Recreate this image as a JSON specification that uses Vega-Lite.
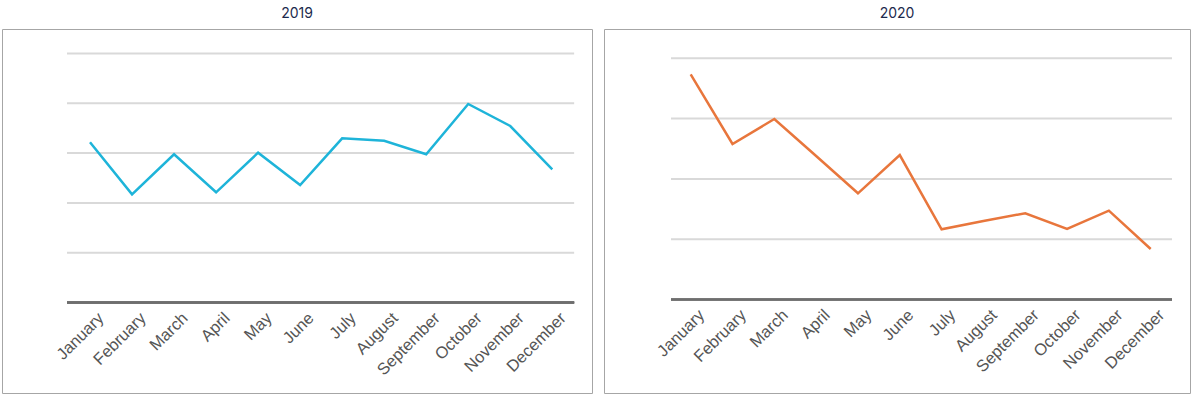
{
  "$schema": "https://vega.github.io/schema/vega-lite/v6.json",
  "background": "white",
  "padding": {"left": 1, "top": 6, "right": 0, "bottom": 0},
  "spacing": 10,
  "datasets": {
    "sales": [
      {"year": 2019, "month": 1, "name": "January", "value": 3.217},
      {"year": 2019, "month": 2, "name": "February", "value": 2.173},
      {"year": 2019, "month": 3, "name": "March", "value": 2.976},
      {"year": 2019, "month": 4, "name": "April", "value": 2.213},
      {"year": 2019, "month": 5, "name": "May", "value": 3.008},
      {"year": 2019, "month": 6, "name": "June", "value": 2.359},
      {"year": 2019, "month": 7, "name": "July", "value": 3.297},
      {"year": 2019, "month": 8, "name": "August", "value": 3.249},
      {"year": 2019, "month": 9, "name": "September", "value": 2.976},
      {"year": 2019, "month": 10, "name": "October", "value": 3.986},
      {"year": 2019, "month": 11, "name": "November", "value": 3.544},
      {"year": 2019, "month": 12, "name": "December", "value": 2.675},
      {"year": 2020, "month": 1, "name": "January", "value": 3.735},
      {"year": 2020, "month": 2, "name": "February", "value": 2.579},
      {"year": 2020, "month": 3, "name": "March", "value": 2.993},
      {"year": 2020, "month": 4, "name": "April", "value": 2.38},
      {"year": 2020, "month": 5, "name": "May", "value": 1.761},
      {"year": 2020, "month": 6, "name": "June", "value": 2.396},
      {"year": 2020, "month": 7, "name": "July", "value": 1.164},
      {"year": 2020, "month": 8, "name": "August", "value": 1.302},
      {"year": 2020, "month": 9, "name": "September", "value": 1.43},
      {"year": 2020, "month": 10, "name": "October", "value": 1.169},
      {"year": 2020, "month": 11, "name": "November", "value": 1.473},
      {"year": 2020, "month": 12, "name": "December", "value": 0.837}
    ],
    "grid2019": [{"level": 1}, {"level": 2}, {"level": 3}, {"level": 4}, {"level": 5}],
    "grid2020": [{"level": 1}, {"level": 2}, {"level": 3}, {"level": 4}]
  },
  "hconcat": [
    {
      "title": {"text": "2019", "offset": 8},
      "width": 590,
      "height": 364,
      "layer": [
        {
          "data": {"name": "grid2019"},
          "mark": {"type": "rule", "color": "#d9d9d9", "strokeWidth": 2},
          "encoding": {
            "x": {"datum": 0.453, "type": "quantitative", "scale": {"domain": [-1.094, 12.945], "nice": false, "zero": false},
              "axis": {
                "title": null, "values": [1,2,3,4,5,6,7,8,9,10,11,12],
                "labelExpr": "['January','February','March','April','May','June','July','August','September','October','November','December'][datum.value-1]",
                "labelAngle": -45, "ticks": false, "domain": false, "grid": false,
                "offset": -90.5, "labelPadding": 7, "labelOffset": 5, "labelFlush": false, "labelOverlap": false, "labelBound": false
              }},
            "x2": {"datum": 12.52},
            "y": {"field": "level", "type": "quantitative", "scale": {"domain": [-1.817, 5.492], "nice": false, "zero": false}, "axis": null}
          }
        },
        {
          "data": {"name": "grid2019"},
          "mark": {"type": "rule", "color": "#6e6e6e", "strokeWidth": 2},
          "encoding": {
            "x": {"datum": 0.453, "type": "quantitative"},
            "x2": {"datum": 12.52},
            "y": {"datum": 0, "type": "quantitative"}
          }
        },
        {
          "data": {"name": "sales"},
          "transform": [{"filter": "datum.year == 2019"}],
          "mark": {"type": "line", "color": "#1eb4d9", "strokeWidth": 2.5},
          "encoding": {
            "x": {"field": "month", "type": "quantitative"},
            "y": {"field": "value", "type": "quantitative"}
          }
        }
      ]
    },
    {
      "title": {"text": "2020", "offset": 8},
      "width": 586,
      "height": 364,
      "layer": [
        {
          "data": {"name": "grid2020"},
          "mark": {"type": "rule", "color": "#d9d9d9", "strokeWidth": 2},
          "encoding": {
            "x": {"datum": 0.529, "type": "quantitative", "scale": {"domain": [-1.073, 12.94], "nice": false, "zero": false},
              "axis": {
                "title": null, "values": [1,2,3,4,5,6,7,8,9,10,11,12],
                "labelExpr": "['January','February','March','April','May','June','July','August','September','October','November','December'][datum.value-1]",
                "labelAngle": -45, "ticks": false, "domain": false, "grid": false,
                "offset": -93.5, "labelPadding": 7, "labelOffset": 5, "labelFlush": false, "labelOverlap": false, "labelBound": false
              }},
            "x2": {"datum": 12.509},
            "y": {"field": "level", "type": "quantitative", "scale": {"domain": [-1.551, 4.486], "nice": false, "zero": false}, "axis": null}
          }
        },
        {
          "data": {"name": "grid2020"},
          "mark": {"type": "rule", "color": "#6e6e6e", "strokeWidth": 2},
          "encoding": {
            "x": {"datum": 0.529, "type": "quantitative"},
            "x2": {"datum": 12.509},
            "y": {"datum": 0, "type": "quantitative"}
          }
        },
        {
          "data": {"name": "sales"},
          "transform": [{"filter": "datum.year == 2020"}],
          "mark": {"type": "line", "color": "#e8763c", "strokeWidth": 2.5},
          "encoding": {
            "x": {"field": "month", "type": "quantitative"},
            "y": {"field": "value", "type": "quantitative"}
          }
        }
      ]
    }
  ],
  "config": {
    "view": {"stroke": "#a6a6a6", "strokeWidth": 1},
    "title": {"font": "Inter", "fontSize": 14, "fontWeight": "normal", "color": "#1c2a4d"},
    "axis": {"labelFont": "Liberation Sans", "labelFontSize": 16.5, "labelColor": "#555555"}
  }
}
